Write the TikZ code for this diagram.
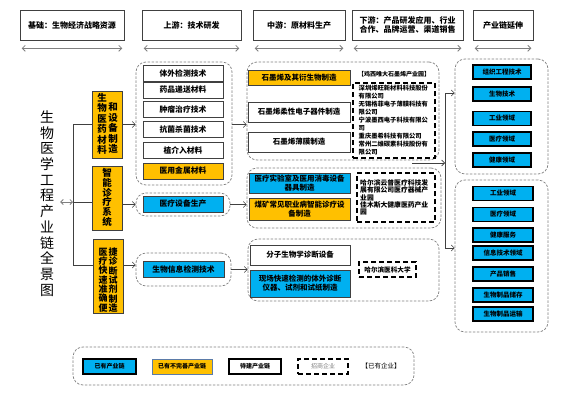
\documentclass[tikz,border=0pt]{standalone}
\usepackage{fontspec}
\setmainfont{Noto Sans CJK SC}
\usetikzlibrary{arrows.meta,calc}
\definecolor{ogold}{HTML}{FFC000}
\definecolor{cblue}{HTML}{00B0F0}
\definecolor{gline}{HTML}{808080}
\definecolor{dline}{HTML}{404040}
\definecolor{lborder}{HTML}{5B7BA8}
\tikzset{
 hbox/.style={draw=dline, line width=0.6pt, fill=white, inner sep=0pt, align=center, font=\fontsize{8}{9.5}\selectfont\bfseries},
 grp/.style={draw=gline, dash pattern=on 2.5pt off 1.5pt, rounded corners=10pt, line width=0.7pt, inner sep=0pt},
 wbox/.style={draw=dline, line width=0.6pt, fill=white, inner sep=0pt, align=center, font=\fontsize{7.8}{9}\selectfont\bfseries},
 obox/.style={wbox, fill=ogold},
 blbox/.style={wbox, fill=cblue},
 mbox/.style={wbox, font=\fontsize{7.5}{9}\selectfont\bfseries},
 rbox/.style={draw=black, line width=1.5pt, fill=cblue, inner sep=0pt, minimum height=14pt, font=\fontsize{6.5}{7}\selectfont\bfseries},
 kbox/.style={draw=black, line width=1.5pt, dash pattern=on 5pt off 3pt, inner sep=0pt},
 ctext/.style={inner sep=0pt, align=left, anchor=west},
 vt/.style={inner sep=0pt, align=center},
 conn/.style={draw=dline, line width=0.6pt},
 arr/.style={conn, -{Straight Barb[length=3pt,width=6pt]}},
 harr/.style={draw=gline, line width=0.8pt, {Straight Barb[length=3pt,width=6pt]}-{Straight Barb[length=3pt,width=6pt]}},
}
\begin{document}
\begin{tikzpicture}[x=1pt,y=-1pt]
\useasboundingbox (0,0) rectangle (579,410);
\fill[white] (0,0) rectangle (579,410);

% ---------- headers ----------
\node[hbox, minimum width=104pt, minimum height=30pt] (H1) at (72,25) {基础：生物经济战略资源};
\node[hbox, minimum width=99pt, minimum height=30pt] (H2) at (191.5,25) {上游：技术研发};
\node[hbox, minimum width=92pt, minimum height=30pt] (H3) at (299,25) {中游：原材料生产};
\node[hbox, minimum width=111pt, minimum height=30pt] (H4) at (407.5,25) {下游：产品研发应用、行业\\合作、品牌运营、渠道销售};
\node[hbox, minimum width=60pt, minimum height=30pt] (H5) at (503,25) {产业链延伸};
\foreach \h in {H1,H2,H3,H4,H5}{
  \draw[harr] ($(\h.south west)+(2,8)$) -- ($(\h.south east)+(-2,8)$);
}

% ---------- title ----------
\node[vt, font=\fontsize{14}{15.7}\selectfont] (T) at (47,203.5) {生\\物\\医\\学\\工\\程\\产\\业\\链\\全\\景\\图};

% ---------- orange column ----------
\node[obox, minimum width=30pt, minimum height=67pt] (A) at (107,124.5) {};
\node[vt, font=\fontsize{9.5}{10.5}\selectfont\bfseries] (A1) at (102,124) {生\\物\\医\\药\\材\\料};
\node[vt, font=\fontsize{9.5}{10.5}\selectfont\bfseries] (A2) at (113,128) {和\\设\\备\\制\\造};
\node[obox, minimum width=30pt, minimum height=64pt] (B) at (107,198) {};
\node[vt, font=\fontsize{9.5}{9.8}\selectfont\bfseries] (B1) at (107,197.5) {智\\能\\诊\\疗\\系\\统};
\node[obox, minimum width=30pt, minimum height=74pt] (C) at (108,276) {};
\node[vt, font=\fontsize{9}{9.3}\selectfont\bfseries] (C1) at (103,280) {医\\疗\\快\\速\\准\\确\\便};
\node[vt, font=\fontsize{9}{9.3}\selectfont\bfseries] (C2) at (113,280) {捷\\诊\\断\\试\\剂\\制\\造};

% bus from title
\coordinate (busT) at (73,124.5);
\coordinate (busM) at (73,202);
\coordinate (busB) at (73,265);
\draw[draw=gline, line width=0.8pt, {Straight Barb[length=2.5pt,width=5pt]}-{Straight Barb[length=2.5pt,width=5pt]}] ([xshift=6pt]T.east |- busM) -- (busM);
\draw[conn] (busT) -- (busB);
\draw[conn] (busT) -- (busT -| A.west);
\draw[conn] (busM) -- (busM -| B.west);
\draw[conn] (busB) -- (busB -| C.west);

% ---------- upstream ----------
\node[grp, minimum width=96pt, minimum height=123pt] (U1) at (184,123.5) {};
\node[wbox, minimum width=80pt, minimum height=16pt] (u1) at (183,73) {体外检测技术};
\node[wbox, minimum width=80pt, minimum height=16pt] (u2) at (183,90) {药品递送材料};
\node[wbox, minimum width=80pt, minimum height=16pt] (u3) at (183,109.5) {肿瘤治疗技术};
\node[wbox, minimum width=80pt, minimum height=16pt] (u4) at (183,129.5) {抗菌杀菌技术};
\node[wbox, minimum width=80pt, minimum height=16pt] (u5) at (183,150) {植介入材料};
\node[obox, minimum width=80pt, minimum height=16pt] (u6) at (183,171) {医用金属材料};

\node[grp, minimum width=94pt, minimum height=23pt] (U2) at (183,204.5) {};
\node[blbox, minimum width=80pt, minimum height=16pt] (u7) at (183,204) {医疗设备生产};

\node[grp, minimum width=95pt, minimum height=33pt] (U3) at (183.5,269.5) {};
\node[blbox, minimum width=81pt, minimum height=16pt] (u8) at (183.5,269) {生物信息检测技术};

\draw[arr] (A.east) -- (A.east -| U1.west);
\draw[arr] (B.east |- U2.west) -- (U2.west);
\draw[arr] (C.east |- busB) -- (busB -| U3.west);

% ---------- midstream ----------
\node[grp, minimum width=192pt, minimum height=98pt] (M1) at (343,111) {};
\node[obox, font=\fontsize{7.5}{9}\selectfont\bfseries, minimum width=102pt, minimum height=15pt] (m1) at (299,77.5) {石墨烯及其衍生物制造};
\node[mbox, minimum width=102pt, minimum height=20pt] (m2) at (299,112) {石墨烯柔性电子器件制造};
\node[mbox, minimum width=102pt, minimum height=20pt] (m3) at (299,142) {石墨烯薄膜制造};
\node[inner sep=0pt, font=\fontsize{6}{7}\selectfont\bfseries] (lab1) at (394,74) {【鸡西唯大石墨烯产业园】};
\node[kbox, minimum width=82pt, minimum height=75pt] (K1) at (394,120.5) {};
\node[ctext, font=\fontsize{6.3}{8}\selectfont\bfseries] (k1) at (358.5,120.5) {深圳烯旺新材料科技股份\\有限公司\\无锡格菲电子薄膜科技有\\限公司\\宁波墨西电子科技有限公\\司\\重庆墨希科技有限公司\\常州二维碳素科技股份有\\限公司};

\node[grp, minimum width=194pt, minimum height=60pt] (M2) at (344,198) {};
\node[blbox, font=\fontsize{7.5}{9}\selectfont\bfseries, minimum width=101pt, minimum height=20pt] (m4) at (299.5,183) {医疗实验室及医用消毒设备\\器具制造};
\node[obox, font=\fontsize{7.5}{9}\selectfont\bfseries, minimum width=101pt, minimum height=22pt] (m5) at (299.5,209) {煤矿常见职业病智能诊疗设\\备制造};
\node[kbox, minimum width=78pt, minimum height=49pt] (K2) at (396,197.5) {};
\node[ctext, font=\fontsize{6.8}{7.3}\selectfont\bfseries] (k2) at (360,197.5) {哈尔滨云普医疗科技发\\展有限公司医疗器械产\\业园\\佳木斯大健康医药产业\\园};

\node[grp, minimum width=191pt, minimum height=62pt] (M3) at (343.5,270) {};
\node[mbox, minimum width=100pt, minimum height=20pt] (m6) at (300,255) {分子生物学诊断设备};
\node[blbox, font=\fontsize{7.5}{9}\selectfont\bfseries, minimum width=100pt, minimum height=27pt] (m7) at (300,283.5) {现场快速检测的体外诊断\\仪器、试剂和试纸制造};
\node[kbox, minimum width=57pt, minimum height=15pt, font=\fontsize{6.6}{7}\selectfont\bfseries] (K3) at (387.5,269.5) {哈尔滨医科大学};

\draw[arr] (U1.east |- A.east) -- (A.east -| M1.west);
\draw[arr] (U2.east) -- (U2.east -| M2.west);
\draw[arr] (U3.east) -- (U3.east -| M3.west);

% ---------- extension ----------
\node[grp, minimum width=93pt, minimum height=115pt] (R1) at (501.5,116.5) {};
\node[rbox, minimum width=58pt] (r1) at (502,72) {组织工程技术};
\node[rbox, minimum width=58pt] (r2) at (502,94) {生物技术};
\node[rbox, minimum width=58pt] (r3) at (502,118.5) {工业领域};
\node[rbox, minimum width=58pt] (r4) at (502,139) {医疗领域};
\node[rbox, minimum width=58pt] (r5) at (502,160) {健康领域};

\node[grp, minimum width=93pt, minimum height=152pt] (R2) at (501.5,256) {};
\node[rbox, minimum width=60pt] (s1) at (503,193.5) {工业领域};
\node[rbox, minimum width=60pt] (s2) at (503,214.5) {医疗领域};
\node[rbox, minimum width=60pt] (s3) at (503,235) {健康服务};
\node[rbox, minimum width=60pt] (s4) at (503,253) {信息技术领域};
\node[rbox, minimum width=60pt] (s5) at (503,274) {产品销售};
\node[rbox, minimum width=60pt] (s6) at (503,295) {生物制品储存};
\node[rbox, minimum width=60pt] (s7) at (503,314) {生物制品运输};

\coordinate (mo) at (412,163);
\coordinate (bus2) at (445,163);
\coordinate (bTop) at (445,93);
\coordinate (bBot) at (445,248);
\draw[conn] (bTop) -- (bBot);
\draw[arr] (mo) -- (bus2);
\draw[arr] (bTop) -- (bTop -| R1.west);
\draw[arr] (bBot) -- (bBot -| R2.west);

% ---------- legend ----------
\node[grp, minimum width=341pt, minimum height=38pt] (LG) at (243.5,366) {};
\node[draw=black, line width=1.5pt, fill=cblue, inner sep=0pt, minimum width=53pt, minimum height=15pt, font=\fontsize{6}{7}\selectfont\bfseries] (L1) at (109.5,366.5) {已有产业链};
\node[draw=lborder, line width=1pt, fill=ogold, inner sep=0pt, minimum width=60pt, minimum height=15pt, font=\fontsize{6}{7}\selectfont\bfseries] (L2) at (182,366.5) {已有不完善产业链};
\node[draw=black, line width=1.5pt, fill=white, inner sep=0pt, minimum width=52pt, minimum height=15pt, font=\fontsize{6}{7}\selectfont\bfseries] (L3) at (255,366.5) {待建产业链};
\node[kbox, minimum width=50pt, minimum height=15pt, text=gline, font=\fontsize{6}{7}\selectfont] (L4) at (323,366.5) {招商企业};
\node[inner sep=0pt, font=\fontsize{6.5}{7}\selectfont] (L5) at (381,366.5) {【已有企业】};
\end{tikzpicture}
\end{document}
